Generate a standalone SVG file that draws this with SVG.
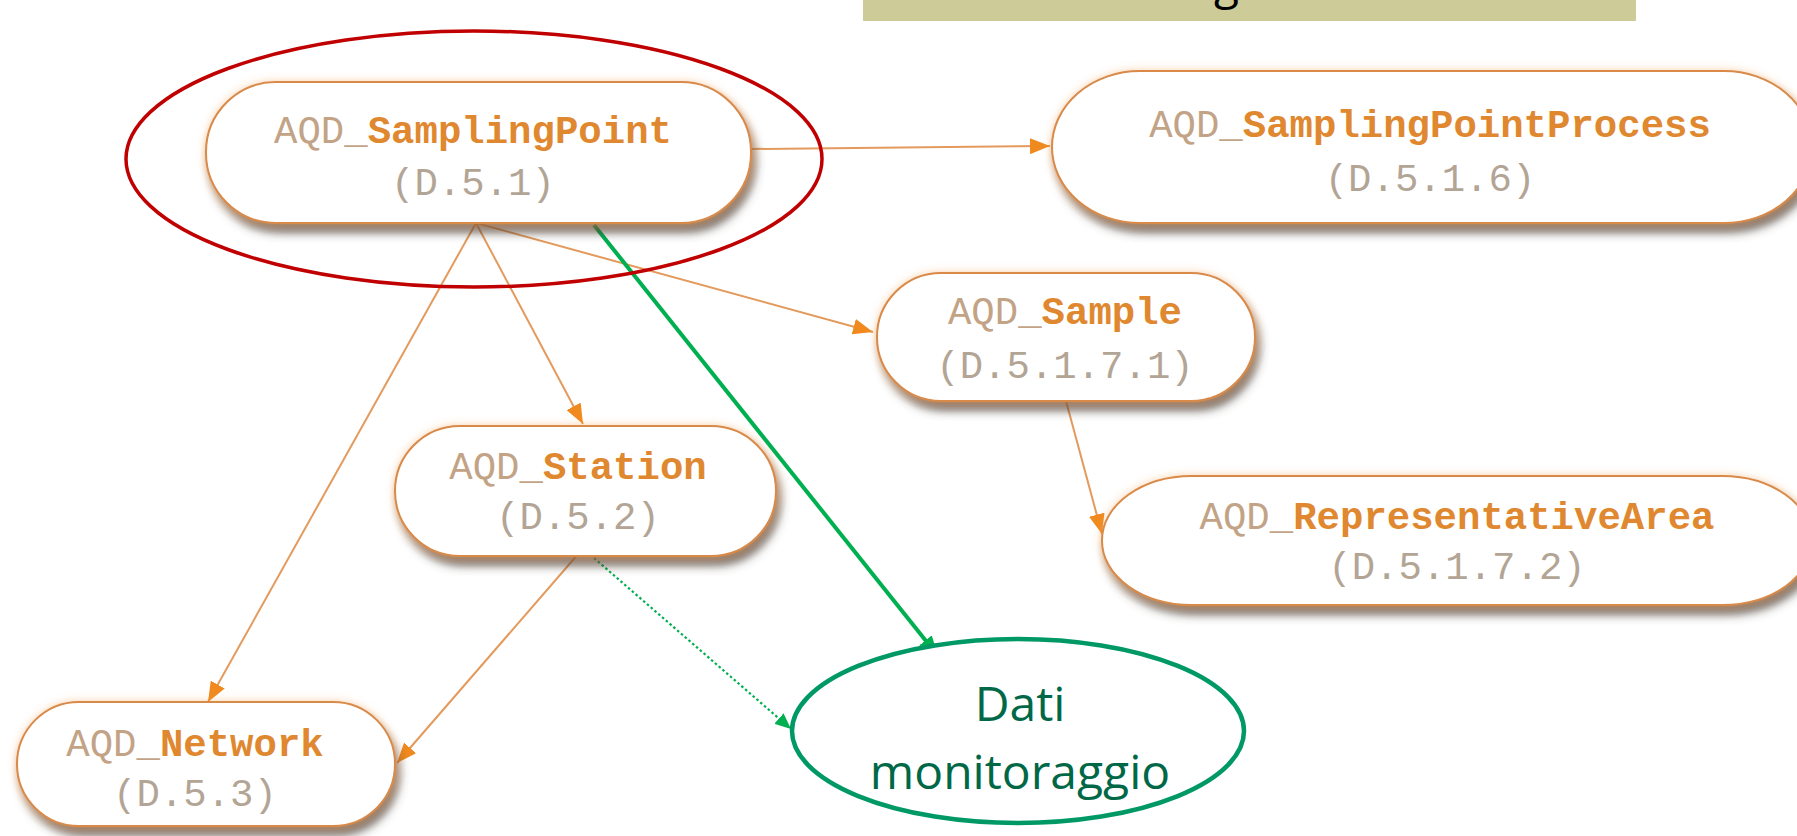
<svg xmlns="http://www.w3.org/2000/svg" width="1797" height="836" viewBox="0 0 1797 836">
<style>
.node{fill:#ffffff;stroke:#d98a4a;stroke-width:2;filter:url(#sh)}
.t{font-family:"Liberation Mono","Courier New",monospace;font-size:39px;text-anchor:middle}
.p{fill:#c2a386}
.b{fill:#e08830;font-weight:bold}
.d{fill:#b3a595}
.c{fill:none;stroke:#e39a5c;stroke-width:2}
.g{font-family:"Open Sans",sans-serif;font-size:48px;fill:#006847;text-anchor:middle}
</style>
<defs>
<filter id="sh" x="-10%" y="-20%" width="125%" height="160%">
<feGaussianBlur in="SourceAlpha" stdDeviation="5" result="b1"/>
<feOffset in="b1" dx="4" dy="9" result="o1"/>
<feFlood flood-color="#4a4038" flood-opacity="0.75"/>
<feComposite in2="o1" operator="in" result="s1"/>
<feGaussianBlur in="SourceAlpha" stdDeviation="4" result="b2"/>
<feFlood flood-color="#f5a050" flood-opacity="0.45"/>
<feComposite in2="b2" operator="in" result="g1"/>
<feMerge><feMergeNode in="s1"/><feMergeNode in="g1"/><feMergeNode in="SourceGraphic"/></feMerge>
</filter>
<marker id="ao" viewBox="0 0 20 16" refX="20" refY="8" markerWidth="20" markerHeight="16" markerUnits="userSpaceOnUse" orient="auto">
<path d="M0,0 L20,8 L0,16 z" fill="#f08a1e"/>
</marker>
<marker id="ag" viewBox="0 0 20 16" refX="20" refY="8" markerWidth="20" markerHeight="16" markerUnits="userSpaceOnUse" orient="auto">
<path d="M0,0 L20,8 L0,16 z" fill="#00b050"/>
</marker>
<marker id="ag2" viewBox="0 0 16 14" refX="16" refY="7" markerWidth="16" markerHeight="14" markerUnits="userSpaceOnUse" orient="auto">
<path d="M0,0 L16,7 L0,14 z" fill="#00b050"/>
</marker>
</defs>
<rect width="1797" height="836" fill="#ffffff"/>
<g id="banner">
<rect x="863" y="-5" width="773" height="26" fill="#cdcc98"/>
<text x="1214" y="-1" font-family="'Open Sans',sans-serif" font-size="46" fill="#000000">g</text>
</g>
<g id="connectors">
<line class="c" x1="751" y1="149" x2="1050" y2="146" marker-end="url(#ao)"/>
<line class="c" x1="476" y1="223" x2="873" y2="332" marker-end="url(#ao)"/>
<line class="c" x1="476" y1="223" x2="583" y2="424" marker-end="url(#ao)"/>
<line class="c" x1="476" y1="223" x2="208" y2="702" marker-end="url(#ao)"/>
<line class="c" x1="1066" y1="401" x2="1102" y2="534" marker-end="url(#ao)"/>
<line class="c" x1="579" y1="553" x2="397" y2="763" marker-end="url(#ao)"/>
<line x1="594" y1="225" x2="938" y2="656" stroke="#00b050" stroke-width="4" marker-end="url(#ag)"/>
<line x1="579" y1="545" x2="791" y2="729" stroke="#00b050" stroke-width="2.2" stroke-dasharray="2.5 2.5" marker-end="url(#ag2)"/>
</g>
<g id="n-samplingpoint">
<rect class="node" x="206" y="82" width="545" height="141" rx="70" ry="70"/>
<text class="t" x="473" y="143"><tspan class="p">AQD_</tspan><tspan class="b">SamplingPoint</tspan></text>
<text class="t d" x="473" y="195">(D.5.1)</text>
</g>
<g id="n-samplingpointprocess">
<rect class="node" x="1052" y="71" width="760" height="152" rx="88" ry="76"/>
<text class="t" x="1430" y="137"><tspan class="p">AQD_</tspan><tspan class="b">SamplingPointProcess</tspan></text>
<text class="t d" x="1430" y="191">(D.5.1.6)</text>
</g>
<g id="n-sample">
<rect class="node" x="877" y="273" width="378" height="128" rx="64" ry="64"/>
<text class="t" x="1065" y="324"><tspan class="p">AQD_</tspan><tspan class="b">Sample</tspan></text>
<text class="t d" x="1065" y="378">(D.5.1.7.1)</text>
</g>
<g id="n-representativearea">
<rect class="node" x="1102" y="476" width="710" height="129" rx="90" ry="64"/>
<text class="t" x="1457" y="529"><tspan class="p">AQD_</tspan><tspan class="b">RepresentativeArea</tspan></text>
<text class="t d" x="1457" y="579">(D.5.1.7.2)</text>
</g>
<g id="n-station">
<rect class="node" x="395" y="426" width="381" height="130" rx="65" ry="65"/>
<text class="t" x="578" y="479"><tspan class="p">AQD_</tspan><tspan class="b">Station</tspan></text>
<text class="t d" x="578" y="529">(D.5.2)</text>
</g>
<g id="n-network">
<rect class="node" x="17" y="702" width="378" height="124" rx="62" ry="62"/>
<text class="t" x="195" y="756"><tspan class="p">AQD_</tspan><tspan class="b">Network</tspan></text>
<text class="t d" x="195" y="806">(D.5.3)</text>
</g>
<g id="n-highlight">
<ellipse cx="474" cy="159" rx="348" ry="128" fill="none" stroke="#c00000" stroke-width="3.5"/>
</g>
<g id="n-dati">
<ellipse cx="1018" cy="731" rx="226" ry="92" fill="#ffffff" stroke="#009966" stroke-width="4.5"/>
<text class="g" x="1020" y="721">Dati</text>
<text class="g" x="1020" y="789">monitoraggio</text>
</g>
</svg>
